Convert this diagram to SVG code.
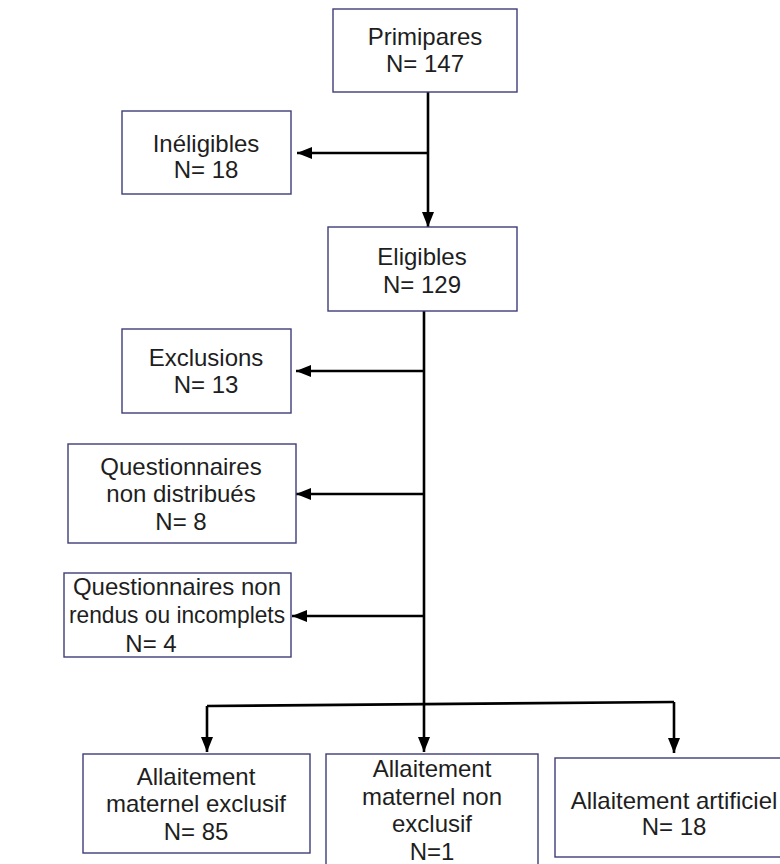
<svg xmlns="http://www.w3.org/2000/svg" width="780" height="864" viewBox="0 0 780 864">
<style>
.box{fill:#fff;stroke:#3d3d78;stroke-width:1.4}
.t{font-family:"Liberation Sans",Arial,sans-serif;font-size:24px;fill:#1e1e1e;text-anchor:middle}
.c{fill:none;stroke:#000;stroke-width:2.6}
</style>
<defs>
<marker id="ah" markerUnits="userSpaceOnUse" markerWidth="16" markerHeight="12" refX="15" refY="6" orient="auto">
<path d="M0,0 L15,6 L0,12 z" fill="#000"/>
</marker>
</defs>
<rect width="780" height="864" fill="#fff"/>
<g id="connectors">
<line class="c" x1="428" y1="92" x2="428" y2="227" marker-end="url(#ah)"/>
<line class="c" x1="428" y1="153" x2="297" y2="153" marker-end="url(#ah)"/>
<line class="c" x1="424" y1="311" x2="424" y2="752" marker-end="url(#ah)"/>
<line class="c" x1="424" y1="371" x2="296" y2="371" marker-end="url(#ah)"/>
<line class="c" x1="424" y1="494" x2="296" y2="494" marker-end="url(#ah)"/>
<line class="c" x1="424" y1="616" x2="292" y2="616" marker-end="url(#ah)"/>
<polyline class="c" points="207,706 674,702"/>
<polyline class="c" points="207,706 207,752" marker-end="url(#ah)"/>
<polyline class="c" points="674,702 674,753" marker-end="url(#ah)"/>
</g>
<g id="primipares">
<rect class="box" x="333" y="9" width="184" height="83"/>
<text class="t" x="425" y="45">Primipares</text>
<text class="t" x="425" y="72">N= 147</text>
</g>
<g id="ineligibles">
<rect class="box" x="122" y="111" width="169" height="83"/>
<text class="t" x="206" y="152">Inéligibles</text>
<text class="t" x="206" y="178">N= 18</text>
</g>
<g id="eligibles">
<rect class="box" x="328" y="227" width="189" height="84"/>
<text class="t" x="422" y="265">Eligibles</text>
<text class="t" x="422" y="293">N= 129</text>
</g>
<g id="exclusions">
<rect class="box" x="122" y="329" width="169" height="84"/>
<text class="t" x="206" y="366">Exclusions</text>
<text class="t" x="206" y="393">N= 13</text>
</g>
<g id="non-distribues">
<rect class="box" x="68" y="444" width="228" height="99"/>
<text class="t" x="181" y="475">Questionnaires</text>
<text class="t" x="181" y="502">non distribués</text>
<text class="t" x="181" y="530">N= 8</text>
</g>
<g id="non-rendus">
<rect class="box" x="64" y="573" width="227" height="84"/>
<text class="t" x="177" y="595">Questionnaires non</text>
<text class="t" x="177" y="623" textLength="216" lengthAdjust="spacingAndGlyphs">rendus ou incomplets</text>
<text class="t" x="151" y="652">N= 4</text>
</g>
<g id="ame">
<rect class="box" x="83" y="754" width="227" height="99"/>
<text class="t" x="196" y="785">Allaitement</text>
<text class="t" x="196" y="812">maternel exclusif</text>
<text class="t" x="196" y="840">N= 85</text>
</g>
<g id="amne">
<rect class="box" x="326" y="754" width="212" height="120"/>
<text class="t" x="432" y="777">Allaitement</text>
<text class="t" x="432" y="805">maternel non</text>
<text class="t" x="432" y="832">exclusif</text>
<text class="t" x="432" y="860">N=1</text>
</g>
<g id="artificiel">
<rect class="box" x="555" y="758" width="235" height="99"/>
<text class="t" x="674" y="809">Allaitement artificiel</text>
<text class="t" x="674" y="835">N= 18</text>
</g>
</svg>
